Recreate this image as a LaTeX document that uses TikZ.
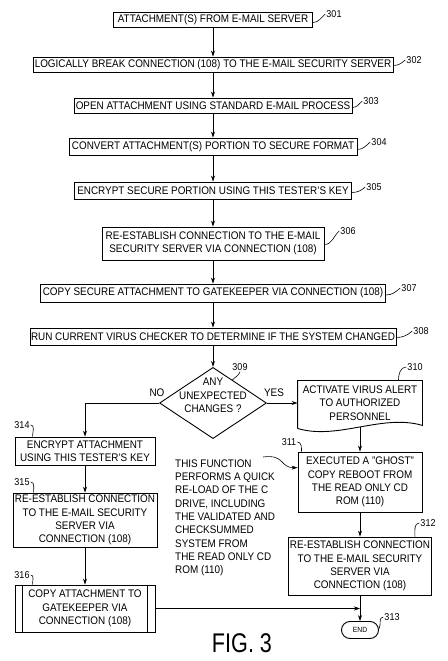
\documentclass[tikz,border=0pt]{standalone}
\usepackage{fontspec}
\setmainfont{Liberation Sans}[FakeStretch=0.9]
\newfontfamily\figfont{Liberation Sans}[FakeStretch=0.8]
\usetikzlibrary{arrows.meta}
\usetikzlibrary{shapes.geometric}
\newcommand{\boxfont}{\fontsize{11}{13.3}\selectfont}
\newcommand{\reffont}{\fontsize{10}{12}\selectfont}

\begin{document}
\begin{tikzpicture}[x=1pt,y=1pt]
    \useasboundingbox (0,0) rectangle (447,661);

    \begin{scope} [every node/.style={draw,line width=0.9pt,inner sep=1pt,align=center,font=\boxfont}]
        \node[minimum width=199pt,minimum height=15pt] (s301) at (213,641.5) {ATTACHMENT(S) FROM E-MAIL SERVER};
        \node[minimum width=360pt,minimum height=15pt] (s302) at (213,596.5) {LOGICALLY BREAK CONNECTION (108) TO THE E-MAIL SECURITY SERVER};
        \node[minimum width=278pt,minimum height=15pt] (s303) at (213,555.5) {OPEN ATTACHMENT USING STANDARD E-MAIL PROCESS};
        \node[minimum width=288pt,minimum height=17pt] (s304) at (213,514.5) {CONVERT ATTACHMENT(S) PORTION TO SECURE FORMAT};
        \node[minimum width=277pt,minimum height=17pt] (s305) at (213,470.5) {ENCRYPT SECURE PORTION USING THIS TESTER'S KEY};
        \node[minimum width=222pt,minimum height=33pt] (s306) at (213,417.5) {RE-ESTABLISH CONNECTION TO THE E-MAIL\\SECURITY SERVER VIA CONNECTION (108)};
        \node[minimum width=345pt,minimum height=18pt] (s307) at (213,368) {COPY SECURE ATTACHMENT TO GATEKEEPER VIA CONNECTION (108)};
        \node[minimum width=366pt,minimum height=17pt] (s308) at (213,324.5) {RUN CURRENT VIRUS CHECKER TO DETERMINE IF THE SYSTEM CHANGED};
        \node[diamond,aspect=1.5,inner sep=-7pt,minimum width=103pt,minimum height=67pt] (chk) at (213,258) {ANY\\UNEXPECTED\\CHANGES ?\\[2pt]};
        \node[draw=none,minimum width=124pt,minimum height=44pt] (alert) at (360,258) {ACTIVATE VIRUS ALERT\\TO AUTHORIZED\\PERSONNEL};
        \node[minimum width=124pt,minimum height=60pt] (ghost) at (360,179) {EXECUTED A "GHOST"\\COPY REBOOT FROM\\THE READ ONLY CD\\ROM (110)};
        \node[minimum width=143pt,minimum height=58pt] (rel) at (360,95) {RE-ESTABLISH CONNECTION\\TO THE E-MAIL SECURITY\\SERVER VIA\\CONNECTION (108)};
        \node[rounded corners=8.5pt,minimum width=37pt,minimum height=17pt,font=\fontsize{7.5}{9}\selectfont] (fin) at (360,31) {END};
        \node[minimum width=140pt,minimum height=28pt] (enc) at (85,210) {ENCRYPT ATTACHMENT\\USING THIS TESTER'S KEY};
        \node[minimum width=144pt,minimum height=54pt] (reest) at (85,141) {RE-ESTABLISH CONNECTION\\TO THE E-MAIL SECURITY\\SERVER VIA\\CONNECTION (108)};
        \node[minimum width=140pt,minimum height=47pt] (copy) at (85,52.5) {COPY ATTACHMENT TO\\GATEKEEPER VIA\\CONNECTION (108)};
    \end{scope}

    \draw[line width=0.9pt] ([yshift=-3pt]alert.south west) -- (alert.north west) -- (alert.north east) -- (alert.south east)
        .. controls +(-40,12) and +(40,-12) .. ([yshift=-3pt]alert.south west);
    \draw[line width=0.9pt] ([xshift=8pt]copy.north west) -- ([xshift=8pt]copy.south west);
    \draw[line width=0.9pt] ([xshift=-8pt]copy.north east) -- ([xshift=-8pt]copy.south east);

    \begin{scope} [every node/.style={inner sep=1pt,font=\reffont}]
        \node (l301) at (334,647) {301};
        \node (l302) at (414,601) {302};
        \node (l303) at (371,560) {303};
        \node (l304) at (379,519) {304};
        \node (l305) at (374,474) {305};
        \node (l306) at (348,430) {306};
        \node (l307) at (409,373) {307};
        \node (l308) at (421,330) {308};
        \node (l309) at (240,294) {309};
        \node (l310) at (415,294) {310};
        \node (l311) at (289,219) {311};
        \node (l312) at (428,138) {312};
        \node (l313) at (392,44) {313};
        \node (l314) at (22,236) {314};
        \node (l315) at (22,179) {315};
        \node (l316) at (22,86) {316};
        \node[font=\boxfont] (no) at (157,268) {NO};
        \node[font=\boxfont] (yes) at (274,268) {YES};
        \node[font=\boxfont,align=left,anchor=north west,inner sep=0pt] (note) at (175,201.5)
            {THIS FUNCTION\\PERFORMS A QUICK\\RE-LOAD OF THE C\\DRIVE, INCLUDING\\THE VALIDATED AND\\CHECKSUMMED\\SYSTEM FROM\\THE READ ONLY CD\\ROM (110)};
        \node[font=\figfont\fontsize{27}{30}\selectfont] (fig) at (242,18) {FIG. 3};
        \coordinate (noteend) at (263,204);
    \end{scope}

    \begin{scope} [line width=0.6pt]
        \draw ([yshift=-3pt]s301.east) to[out=0,in=220] (l301.west);
        \draw ([yshift=-1pt]s302.east) to[out=0,in=220] (l302.west);
        \draw ([yshift=-2pt]s303.east) to[out=0,in=220] (l303.west);
        \draw ([yshift=-3pt]s304.east) to[out=0,in=220] (l304.west);
        \draw ([yshift=-2pt]s305.east) to[out=0,in=220] (l305.west);
        \draw ([yshift=-1pt]s306.east) to[out=0,in=220] (l306.west);
        \draw ([yshift=-2pt]s307.east) to[out=0,in=220] (l307.west);
        \draw ([yshift=-1pt]s308.east) to[out=0,in=220] (l308.west);
        \draw (chk.50) to[out=45,in=250] (l309.south);
        \draw ([xshift=-24pt]alert.north east) to[out=90,in=180] (l310.west);
        \draw (l311.east) to[out=0,in=90] ([xshift=4pt]ghost.north west);
        \draw (l312.west) to[out=180,in=90] ([xshift=-17pt]rel.north east);
        \draw (l313.west) to[out=180,in=60] ([yshift=1pt]fin.east);
        \draw (l314.east) to[out=0,in=90] ([xshift=18pt]enc.north west);
        \draw (l315.east) to[out=0,in=90] ([xshift=21pt]reest.north west);
        \draw (l316.east) to[out=0,in=90] ([xshift=18pt]copy.north west);
    \end{scope}

    \begin{scope}[>={Stealth[length=6pt,width=4pt]},line width=0.8pt,
            every edge/.style={draw,line width=0.8pt}]
        \path [->] (s301) edge (s302);
        \path [->] (s302) edge (s303);
        \path [->] (s303) edge (s304);
        \path [->] (s304) edge (s305);
        \path [->] (s305) edge (s306);
        \path [->] (s306) edge (s307);
        \path [->] (s307) edge (s308);
        \path [->] (s308) edge (chk);
        \path [->] (chk) edge (alert);
        \path [->] ([yshift=-2pt]alert.south) edge (ghost);
        \path [->] (ghost) edge (rel);
        \path [->] (rel) edge (fin);
        \path [->] (enc) edge (reest);
        \path [->] (reest) edge (copy);
        \draw [->] (chk.west) -| (enc.north);
        \draw [->] (copy.east) -- (copy.east -| fin);
        \draw [->,line width=0.6pt] (noteend) .. controls (285,207) and (280,193) .. (ghost.167);
    \end{scope}
\end{tikzpicture}
\end{document}
